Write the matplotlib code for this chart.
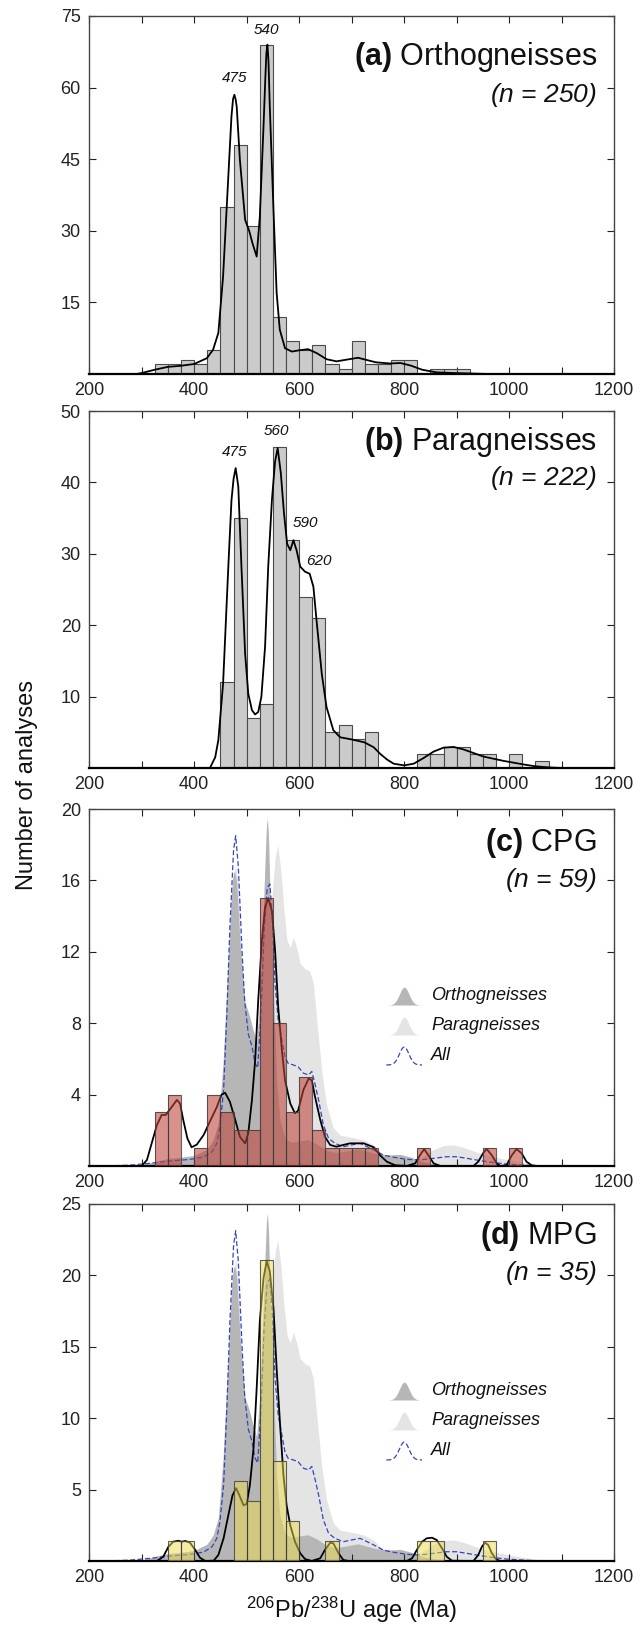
import numpy as np
import matplotlib
matplotlib.use("Agg")
import matplotlib.pyplot as plt

plt.rcParams['font.family'] = ['Liberation Sans', 'DejaVu Sans']
plt.rcParams['mathtext.fontset'] = 'custom'
plt.rcParams['mathtext.rm'] = 'Liberation Sans'
plt.rcParams['mathtext.it'] = 'Liberation Sans:italic'
plt.rcParams['mathtext.bf'] = 'Liberation Sans:bold'

BIN_W = 25

# ---------------- Panel (a) Orthogneisses ----------------
a_bins = [325, 350, 375, 400, 425, 450, 475, 500, 525, 550, 575, 600, 625, 650, 675,
          700, 725, 750, 775, 800, 850, 875, 900]
a_counts = [2, 2, 3, 2, 5, 35, 48, 31, 69, 12, 7, 5, 6, 2, 1, 7, 2, 2, 3, 3, 1, 1, 1]
a_kde_x = [290, 300, 325, 350, 373, 400, 424, 436, 446, 455, 465, 471, 474, 476.5, 479, 481, 487,
           497, 505, 511, 519, 525, 532, 535.5, 537.5, 539.5, 541.5, 544, 551, 557, 563, 573,
           586, 602, 617, 633, 652, 671, 690, 712, 746, 773, 793, 813, 834, 861, 895, 929, 960]
a_kde_y = [0, 0.2, 0.9, 1.5, 1.7, 2.1, 3.3, 5.1, 8.6, 20.4, 41.4, 54, 57.6, 58.5, 57.5, 56, 44.9,
           32.3, 29.9, 27.4, 24.6, 33, 51.8, 62, 67.2, 69, 65.5, 56, 34.4, 17, 9.3, 5.4,
           4.7, 5.0, 5.2, 4.4, 3.1, 2.65, 3.0, 3.4, 2.45, 2.2, 2.3, 1.75, 0.9, 0.35, 0.2, 0.1, 0]
a_peaks = [(478, 62, "475"), (538, 72, "540")]

# ---------------- Panel (b) Paragneisses ----------------
b_bins = [450, 475, 500, 525, 550, 575, 600, 625, 650, 675, 700, 725,
          825, 850, 875, 900, 925, 950, 1000, 1050]
b_counts = [12, 35, 7, 9, 45, 32, 24, 21, 5, 6, 4, 5, 2, 2, 3, 3, 2, 2, 2, 1]
b_kde_x = [430, 440, 446, 455, 465, 471, 475, 479, 484, 490, 497, 503, 510, 516, 522, 528, 535,
           541, 548, 554, 559, 565, 571, 577, 583, 589, 595, 602, 611, 620, 627, 633, 643, 652,
           665, 678, 700, 724, 742, 754, 767, 780, 800, 818, 837, 856, 875, 894, 913, 932, 951,
           970, 989, 1008, 1027, 1046, 1065, 1084, 1103]
b_kde_y = [0, 1.5, 3.9, 11.8, 28.2, 37.5, 40.5, 42, 39.4, 28.2, 16, 10.4, 8.1, 7.5, 7.85, 10, 17,
           28.2, 37.5, 42.9, 44.8, 41.3, 35.7, 31.4, 30.5, 31.9, 30.5, 28.2, 27.5, 27.2, 25.4, 20.7,
           13.2, 8.55, 5.3, 4.3, 4.0, 3.6, 2.9, 2.0, 1.2, 0.6, 0.37, 0.6, 1.4, 2.3, 2.85, 2.95,
           2.6, 2.1, 1.6, 1.3, 1.0, 0.75, 0.5, 0.28, 0.14, 0.05, 0]
b_peaks = [(478, 44.3, "475"), (557, 47.2, "560"), (611, 34.3, "590"), (638, 29.0, "620")]

# ---------------- Panel (c) CPG ----------------
c_bins = [325, 350, 400, 425, 450, 475, 500, 525, 550, 575, 600, 625, 650, 675, 700, 725,
          825, 950, 1000]
c_counts = [3, 4, 1, 4, 3, 2, 2, 15, 8, 3, 5, 2, 1, 1, 1, 1, 1, 1, 1]
c_kde_x = [300, 310, 319, 329, 338, 346, 357, 367, 373, 379, 387, 395, 405, 418, 430, 443, 452,
           459, 468, 478, 487, 497, 503, 510, 516, 522, 529, 535, 541, 548, 554, 560, 567, 573,
           583, 592, 598, 608, 618, 624, 630, 640, 649, 659, 671, 684, 697, 723, 742, 754, 767,
           783, 805, 821, 830, 838, 846, 856, 869, 932, 941, 950, 957, 967, 976, 983, 995, 1005,
           1014, 1024, 1033, 1043, 1052]
c_kde_y = [0, 0.34, 1.27, 2.3, 2.86, 2.86, 3.3, 3.7, 3.5, 2.6, 1.55, 1.05, 1.2, 1.74, 2.5, 3.3,
           4.0, 4.1, 3.6, 2.6, 1.64, 1.27, 1.83, 3.7, 5.9, 9.3, 12.66, 14.5, 15, 14.3, 12.1, 8.9,
           6.5, 4.8, 3.5, 2.95, 3.1, 4.26, 4.9, 4.8, 3.9, 2.6, 1.64, 1.18, 1.08, 1.18, 1.27, 1.27,
           1.05, 0.6, 0.24, 0.04, 0, 0.15, 0.6, 0.95, 0.6, 0.15, 0, 0, 0.24, 0.7, 0.95, 0.6, 0.15,
           0, 0.05, 0.6, 0.95, 0.7, 0.24, 0.04, 0]

# ---------------- Panel (d) MPG ----------------
d_bins = [350, 375, 475, 500, 525, 550, 575, 650, 825, 850, 950]
d_counts = [1.4, 1.4, 5.6, 4.2, 21.1, 7.0, 2.8, 1.4, 1.4, 1.4, 1.4]
d_kde_x = [300, 329, 341, 351, 360, 370, 376, 383, 392, 402, 411, 421, 437, 446, 456, 465, 473,
           480, 486, 494, 500, 506, 513, 519, 525, 532, 538, 544, 551, 557, 564, 570, 576, 583,
           592, 602, 611, 624, 640, 649, 659, 665, 675, 684, 694, 805, 815, 824, 834, 843, 853,
           862, 872, 881, 891, 932, 941, 948, 954, 960, 967, 975, 983]
d_kde_y = [0, 0, 0.3, 1.0, 1.35, 1.42, 1.35, 1.4, 1.28, 0.77, 0.23, 0, 0.02, 0.42, 1.6, 3.2, 4.6,
           5.1, 4.6, 3.9, 4.0, 5.3, 7.9, 12.1, 16.8, 19.8, 21.0, 20.3, 17.7, 13.5, 9.3, 6.0, 3.9,
           2.5, 1.35, 0.54, 0.14, 0, 0.19, 0.77, 1.28, 1.24, 0.54, 0.07, 0, 0, 0.19, 0.77, 1.35,
           1.59, 1.63, 1.47, 0.89, 0.3, 0.02, 0, 0.42, 1.0, 1.28, 1.12, 0.54, 0.12, 0]

# ---------------- reference curve "All" (in panel-c units) ----------------
all_x = [235, 278, 316, 354, 392, 418, 434, 443, 449, 456, 462, 468, 475, 479, 484, 491, 496, 503,
         510, 516, 521, 527, 533, 539, 544, 548, 554, 560, 567, 573, 579, 589, 598, 608, 618, 624,
         630, 637, 646, 656, 668, 684, 700, 716, 742, 761, 780, 805, 830, 856, 881, 900, 919, 945,
         970, 995, 1033, 1071, 1120]
all_y = [0, 0.05, 0.15, 0.28, 0.37, 0.5, 0.8, 1.27, 2.2, 4.26, 8.4, 13.4, 17.7, 18.5, 16.8, 12.1,
         9.3, 7.4, 6.7, 5.75, 5.5, 8.4, 13.0, 15.55, 15.8, 14.3, 10.2, 8.2, 7.06, 6.1, 5.75, 5.66,
         5.56, 5.2, 5.1, 5.3, 4.6, 3.7, 2.3, 1.55, 1.27, 1.08, 1.18, 1.27, 0.9, 0.6, 0.49, 0.37,
         0.34, 0.43, 0.52, 0.52, 0.43, 0.3, 0.19, 0.11, 0.04, 0, 0]
# Heights of the background ortho/para envelopes relative to their own KDE peaks (panel-c units)
ortho_ref_peak = 19.5
para_ref_peak = 18.0

panels = [
    dict(label="(a)", name="Orthogneisses", n="250", ylim=75, yticks=[15, 30, 45, 60, 75],
         bins=a_bins, counts=a_counts, kx=a_kde_x, ky=a_kde_y, peaks=a_peaks,
         top=16, bottom=374, ty=0.886, ny=0.78, kind="plain"),
    dict(label="(b)", name="Paragneisses", n="222", ylim=50, yticks=[10, 20, 30, 40, 50],
         bins=b_bins, counts=b_counts, kx=b_kde_x, ky=b_kde_y, peaks=b_peaks,
         top=411, bottom=768, ty=0.913, ny=0.811, kind="plain"),
    dict(label="(c)", name="CPG", n="59", ylim=20, yticks=[4, 8, 12, 16, 20],
         bins=c_bins, counts=c_counts, kx=c_kde_x, ky=c_kde_y, peaks=[],
         top=809, bottom=1166, ty=0.905, ny=0.80, kind="overlay",
         color=(0.74, 0.26, 0.22), alpha=0.58),
    dict(label="(d)", name="MPG", n="35", ylim=25, yticks=[5, 10, 15, 20, 25],
         bins=d_bins, counts=d_counts, kx=d_kde_x, ky=d_kde_y, peaks=[],
         top=1204, bottom=1561, ty=0.91, ny=0.807, kind="overlay",
         color=(0.93, 0.86, 0.30), alpha=0.5),
]

W, H = 644, 1627
fig = plt.figure(figsize=(W / 100, H / 100), dpi=100)
AX_L, AX_R = 89.2, 614.2

ORTHO_C = '#b6b6b6'
PARA_C = '#e4e4e4'
BLUE = '#3346c0'

bell_x = np.linspace(-1, 1, 80)
bell_y = np.exp(-(bell_x / 0.38) ** 2)

for p in panels:
    ax = fig.add_axes([AX_L / W, 1 - p["bottom"] / H, (AX_R - AX_L) / W,
                       (p["bottom"] - p["top"]) / H])
    ax.set_xlim(200, 1200)
    ax.set_ylim(0, p["ylim"])
    scale = p["ylim"] / 20.0
    if p["kind"] == "plain":
        ax.bar(p["bins"], p["counts"], width=BIN_W, align='edge', color='#cbcbcb',
               edgecolor='#4a4a4a', linewidth=0.8, zorder=2)
        ax.plot(p["kx"], p["ky"], color='black', lw=1.3, zorder=3)
        for (px, py, s) in p["peaks"]:
            ax.text(px, py, s, ha='center', va='center', fontsize=11, style='italic',
                    color='#111111', zorder=4)
    else:
        para = np.array(b_kde_y) / max(b_kde_y) * para_ref_peak * scale
        ortho = np.array(a_kde_y) / max(a_kde_y) * ortho_ref_peak * scale
        ax.fill_between(b_kde_x, 0, para, color=PARA_C, lw=0, zorder=1)
        ax.fill_between(a_kde_x, 0, ortho, color=ORTHO_C, lw=0, zorder=1.5)
        ax.plot(all_x, np.array(all_y) * scale, color=BLUE, lw=0.9,
                linestyle=(0, (4, 2)), zorder=2)
        ax.plot(p["kx"], p["ky"], color='black', lw=1.3, zorder=2.5)
        ax.bar(p["bins"], p["counts"], width=BIN_W, align='edge', color=p["color"],
               alpha=p["alpha"], edgecolor='none', linewidth=0, zorder=3)
        ax.bar(p["bins"], p["counts"], width=BIN_W, align='edge', fill=False,
               edgecolor='#3a3a3a', linewidth=0.8, alpha=0.8, zorder=3.1)
        # legend
        entries = [(0.477, 'Orthogneisses', 'fill', ORTHO_C),
                   (0.393, 'Paragneisses', 'fill', PARA_C),
                   (0.309, 'All', 'line', BLUE)]
        x0, x1 = 0.566, 0.634
        ix = x0 + (bell_x + 1) / 2 * (x1 - x0)
        for (yc, txt, kind, col) in entries:
            yb = yc - 0.026
            iy = yb + bell_y * 0.05
            if kind == 'fill':
                ax.fill_between(ix, yb, iy, color=col, lw=0, transform=ax.transAxes, zorder=5)
            else:
                ax.plot(ix, iy, color=col, lw=0.9, linestyle=(0, (4, 2)),
                        transform=ax.transAxes, zorder=5)
            ax.text(0.651, yc, txt, transform=ax.transAxes, ha='left', va='center',
                    fontsize=13, style='italic', color='#111111', zorder=5)

    ax.set_xticks(range(200, 1201, 100))
    ax.set_xticklabels([str(v) if v % 200 == 0 else '' for v in range(200, 1201, 100)])
    ax.set_yticks(p["yticks"])
    ax.set_yticklabels([str(v) for v in p["yticks"]])
    ax.tick_params(direction='in', length=5, width=0.8, top=True, right=True,
                   labelsize=13, pad=6, colors='#222222', labelcolor='#222222')
    for side in ['top', 'left', 'right']:
        ax.spines[side].set_color('#444444')
        ax.spines[side].set_linewidth(1.0)
    ax.spines['bottom'].set_color('black')
    ax.spines['bottom'].set_linewidth(1.6)

    ax.text(0.967, p["ty"], r'$\mathbf{' + p["label"] + r'}$' + ' ' + p["name"],
            transform=ax.transAxes, ha='right', va='center', fontsize=22, color='#111111', zorder=6)
    ax.text(0.967, p["ny"], '(' + r'$\it{n}$' + ' = ' + p["n"] + ')', transform=ax.transAxes,
            ha='right', va='center', fontsize=19, style='italic', color='#111111', zorder=6)

fig.text(27 / W, 1 - 785 / H, 'Number of analyses', rotation=90, ha='center', va='center',
         fontsize=17, color='#111111')
fig.text((AX_L + AX_R) / 2 / W, 1 - 1610 / H, r'$^{206}$Pb/$^{238}$U age (Ma)', ha='center',
         va='center', fontsize=17, color='#111111')

fig.savefig('out.png', dpi=100)
